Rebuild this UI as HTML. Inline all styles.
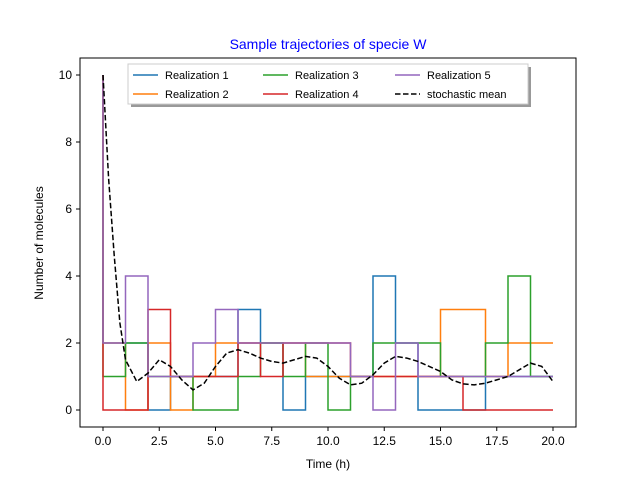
<!DOCTYPE html>
<html><head><meta charset="utf-8"><style>
body{margin:0;background:#fff}
svg{font-family:"Liberation Sans","DejaVu Sans",sans-serif}
</style></head><body>
<svg id="c" width="640" height="480" xmlns="http://www.w3.org/2000/svg">
<rect width="640" height="480" fill="#fff"/>
<text x="328" y="49" text-anchor="middle" font-size="14" fill="#0000ff">Sample trajectories of specie W</text>
<g id="plot"></g>
<rect x="80" y="58" width="496" height="369" fill="none" stroke="#000" stroke-width="1"/>
<g id="axes"></g>
<text x="328" y="468" text-anchor="middle" font-size="12">Time (h)</text>
<text transform="translate(43,243) rotate(-90)" text-anchor="middle" font-size="12">Number of molecules</text>
<g>
<rect x="131" y="67" width="400" height="40" fill="#555" opacity="0.6"/>
<rect x="128" y="64" width="400" height="40" fill="#fff" stroke="#ccc"/>
<g id="leg"></g>
</g>
</svg>
<script>
const times=[0,1,2,3,4,5,6,7,8,9,10,11,12,13,14,15,16,17,18,19,20];
const r1=[2,2,0,1,1,1,3,2,0,1,1,1,4,2,0,0,0,1,1,1,1];
const r2=[2,0,2,0,1,2,2,2,2,1,1,1,1,1,1,3,3,1,2,2,2];
const r3=[1,2,1,1,0,0,1,2,1,2,0,1,2,2,2,1,1,2,4,1,1];
const r4=[0,0,3,1,1,1,2,1,2,2,2,1,1,1,1,1,0,0,0,0,0];
const r5=[2,4,1,1,2,3,2,2,2,2,2,1,0,2,1,1,1,1,1,1,1];
const initial=10;
const meanT=[0,0.25,0.5,0.75,1,1.5,2,2.5,3,3.5,4,4.5,5,5.5,6,6.5,7,7.5,8,8.5,9,9.5,10,10.5,11,11.5,12,12.5,13,13.5,14,14.5,15,15.5,16,16.5,17,17.5,18,18.5,19,19.5,20];
const meanV=[10,6.9,4.6,2.6,1.5,0.85,1.1,1.5,1.3,0.9,0.6,0.8,1.3,1.7,1.8,1.7,1.55,1.45,1.4,1.5,1.6,1.55,1.3,0.95,0.75,0.8,1.05,1.4,1.6,1.55,1.45,1.3,1.15,0.9,0.78,0.75,0.8,0.9,1.0,1.2,1.4,1.3,0.85];
const xTicks=[0,2.5,5,7.5,10,12.5,15,17.5,20];
const xLabels=["0.0","2.5","5.0","7.5","10.0","12.5","15.0","17.5","20.0"];
const yTicks=[0,2,4,6,8,10];
const names=["Realization 1","Realization 2","Realization 3","Realization 4","Realization 5","stochastic mean"];
const colors=["#1f77b4","#ff7f0e","#2ca02c","#d62728","#9467bd","#000"];
const X=t=>103+t*22.5, Y=v=>410-v*33.5;
const NS="http://www.w3.org/2000/svg";
const plot=document.getElementById('plot'),axes=document.getElementById('axes'),leg=document.getElementById('leg');
function mk(tag,attrs,parent){const e=document.createElementNS(NS,tag);for(const k in attrs)e.setAttribute(k,attrs[k]);parent.appendChild(e);return e;}
[r1,r2,r3,r4,r5].forEach((s,i)=>{
  let d="M"+X(0)+","+Y(initial)+" L"+X(0)+","+Y(s[0]);
  for(let k=1;k<times.length;k++){d+=" L"+X(times[k])+","+Y(s[k-1])+" L"+X(times[k])+","+Y(s[k]);}
  const p=mk('path',{d:d,fill:'none',stroke:colors[i],'stroke-width':1.5},plot);
  
  
});
{let d="";meanT.forEach((t,k)=>{d+=(k?" L":"M")+X(t)+","+Y(meanV[k]);});
 const p=mk('path',{d:d,fill:'none',stroke:'#000','stroke-width':1.5,'stroke-dasharray':'5.5,2.5'},plot);
 
 }
xTicks.forEach((t,i)=>{
  mk('line',{x1:X(t),x2:X(t),y1:427,y2:431,stroke:'#000'},axes);
  const tx=mk('text',{x:X(t),y:445,'text-anchor':'middle','font-size':12},axes);tx.textContent=xLabels[i];
  
  
});
yTicks.forEach(v=>{
  mk('line',{x1:76,x2:80,y1:Y(v),y2:Y(v),stroke:'#000'},axes);
  const tx=mk('text',{x:72,y:Y(v)+4,'text-anchor':'end','font-size':12},axes);tx.textContent=v;
  
  
});
names.forEach((n,i)=>{
  const cx=133+[0,130,262][Math.floor(i/2)],cy=75+(i%2)*19;
  const l=mk('line',{x1:cx,x2:cx+25,y1:cy,y2:cy,stroke:colors[i],'stroke-width':1.5},leg);
  if(i==5)l.setAttribute('stroke-dasharray','5.5,2.5');
  const t=mk('text',{x:cx+32,y:cy+4,'font-size':11},leg);t.textContent=n;
  
  
});
</script>
</body></html>
